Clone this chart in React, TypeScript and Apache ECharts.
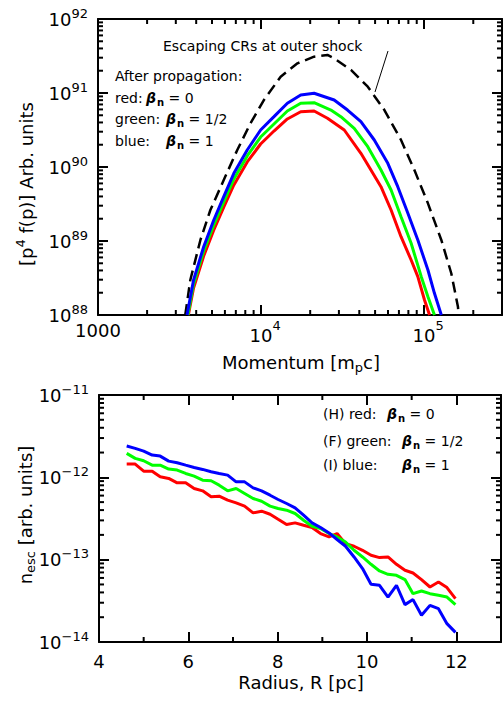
import React, { useEffect, useRef } from "react";
import * as echarts from "echarts";

const FONT = "DejaVu Sans";
const BLACK = "#000000";

// ---------- Top panel: p^4 f(p) vs momentum (values stored as log10) ----------
const shockLogP = [3.535, 3.566, 3.628, 3.689, 3.771, 3.854, 3.935, 4.017, 4.12, 4.223, 4.325, 4.407, 4.448, 4.551, 4.654, 4.756, 4.858, 4.94, 5.023, 5.105, 5.166, 5.207, 5.211];
const shockLogF = [88.0, 88.473, 89.014, 89.419, 89.824, 90.23, 90.591, 90.905, 91.22, 91.401, 91.491, 91.514, 91.469, 91.311, 91.085, 90.77, 90.365, 89.959, 89.509, 89.014, 88.564, 88.112, 88.0];

const redLogP = [3.554, 3.586, 3.648, 3.71, 3.771, 3.833, 3.915, 3.997, 4.079, 4.161, 4.243, 4.325, 4.407, 4.51, 4.612, 4.735, 4.797, 4.858, 4.92, 4.961, 5.002, 5.033];
const redLogF = [88.0, 88.365, 88.797, 89.149, 89.459, 89.757, 90.068, 90.311, 90.486, 90.649, 90.747, 90.757, 90.658, 90.5, 90.185, 89.734, 89.419, 89.058, 88.743, 88.518, 88.203, 88.0];

const greenLogP = [3.551, 3.586, 3.648, 3.71, 3.771, 3.833, 3.915, 3.997, 4.079, 4.161, 4.243, 4.325, 4.428, 4.489, 4.571, 4.654, 4.735, 4.797, 4.858, 4.92, 4.982, 5.023, 5.063];
const greenLogF = [88.0, 88.419, 88.865, 89.216, 89.527, 89.838, 90.149, 90.405, 90.581, 90.757, 90.861, 90.869, 90.77, 90.68, 90.523, 90.274, 89.959, 89.689, 89.328, 88.969, 88.518, 88.247, 88.0];

const blueLogP = [3.546, 3.586, 3.648, 3.71, 3.771, 3.833, 3.915, 3.997, 4.079, 4.161, 4.243, 4.325, 4.448, 4.53, 4.612, 4.694, 4.777, 4.838, 4.9, 4.961, 5.023, 5.063, 5.105];
const blueLogF = [88.0, 88.473, 88.923, 89.284, 89.599, 89.915, 90.23, 90.5, 90.68, 90.861, 90.973, 90.996, 90.905, 90.77, 90.612, 90.365, 90.05, 89.734, 89.374, 89.014, 88.608, 88.293, 88.0];

const momentumMin = 1e3;
const momentumMax = 3e5;
const spectrumMin = 1e88;
const spectrumMax = 1e92;

// ---------- Bottom panel: n_esc vs radius (n_esc stored as log10) ----------
const radius = [4.62, 4.81, 5.0, 5.19, 5.37, 5.56, 5.75, 5.94, 6.13, 6.32, 6.51, 6.69, 6.88, 7.07, 7.26, 7.45, 7.64, 7.83, 8.01, 8.2, 8.39, 8.58, 8.77, 8.96, 9.15, 9.33, 9.52, 9.71, 9.9, 10.09, 10.28, 10.47, 10.66, 10.85, 11.03, 11.22, 11.41, 11.6, 11.79, 11.98];
const escRedLog = [-11.839, -11.839, -11.925, -11.925, -11.994, -12.013, -12.067, -12.067, -12.135, -12.164, -12.237, -12.229, -12.277, -12.31, -12.35, -12.432, -12.411, -12.448, -12.509, -12.573, -12.553, -12.582, -12.61, -12.683, -12.724, -12.683, -12.805, -12.837, -12.886, -12.946, -12.975, -12.967, -13.056, -13.129, -13.162, -13.242, -13.332, -13.271, -13.339, -13.473];
const escGreenLog = [-11.709, -11.77, -11.799, -11.852, -11.852, -11.9, -11.912, -11.953, -11.985, -12.034, -12.042, -12.095, -12.164, -12.135, -12.196, -12.257, -12.29, -12.35, -12.378, -12.399, -12.439, -12.521, -12.594, -12.622, -12.683, -12.724, -12.785, -12.886, -12.967, -13.056, -13.137, -13.178, -13.19, -13.242, -13.413, -13.381, -13.413, -13.433, -13.454, -13.546];
const escBlueLog = [-11.62, -11.648, -11.681, -11.73, -11.742, -11.803, -11.823, -11.852, -11.88, -11.904, -11.933, -11.953, -11.973, -12.055, -12.055, -12.128, -12.164, -12.217, -12.269, -12.318, -12.371, -12.46, -12.553, -12.61, -12.675, -12.755, -12.837, -12.967, -13.108, -13.299, -13.311, -13.454, -13.311, -13.546, -13.485, -13.676, -13.555, -13.595, -13.777, -13.883];

const radiusMin = 4;
const radiusMax = 13;
const radiusStep = 2;
const radiusMinor = [5, 7, 9, 11];
const escMin = 1e-14;
const escMax = 1e-11;

// ---------- Texts ----------
const topLegendTitle = "After propagation:";
const topShockLabel = "Escaping CRs at outer shock";
const legendNames = ["red:", "green:", "blue:"];
const bottomLegendNames = ["(H) red:", "(F) green:", "(I) blue:"];
const legendBetas = ["0", "1/2", "1"];

const GRID_TOP = { left: 98, top: 19, width: 404, height: 296 };
const GRID_BOT = { left: 99, top: 395, width: 402, height: 247 };

const pairsLog = (lx: number[], ly: number[]) => lx.map((v, i) => [Math.pow(10, v), Math.pow(10, ly[i])]);
const pairsLin = (xs: number[], ly: number[]) => xs.map((v, i) => [v, Math.pow(10, ly[i])]);

function decadeOf(v: number): number | null {
  const l = Math.log10(v);
  const r = Math.round(l);
  return Math.abs(l - r) < 1e-6 ? r : null;
}
const expText = (n: number) => (n < 0 ? "\u2212" + -n : String(n));

const yRich = () => ({
  b: { fontSize: 18, fontFamily: FONT, color: BLACK, height: 23 },
  e: { fontSize: 13, fontFamily: FONT, color: BLACK, padding: [0, 0, 12, 0] },
});
const xRich = () => ({
  b: { fontSize: 18, fontFamily: FONT, color: BLACK, height: 23 },
  bp: { fontSize: 18, fontFamily: FONT, color: BLACK, height: 23, padding: [0, 0, 0, 8] },
  e: { fontSize: 13, fontFamily: FONT, color: BLACK, padding: [0, 0, 20, 0] },
});

const mkLine = () => ({ show: true, onZero: false, lineStyle: { color: BLACK, width: 2 } });
const mkTick = () => ({ show: true, inside: true, length: 10, lineStyle: { color: BLACK, width: 2 } });

function buildOption(): any {
  const yLogLabel = () => ({
    margin: 10,
    formatter: (v: number) => {
      const n = decadeOf(v);
      return n === null ? "" : `{b|10}{e|${expText(n)}}`;
    },
    rich: yRich(),
  });
  const line = (name: string, x: number, y: number, data: number[][], color: string, extra: any = {}) => ({
    name,
    type: "line",
    xAxisIndex: x,
    yAxisIndex: y,
    data,
    showSymbol: false,
    symbol: "none",
    silent: true,
    clip: true,
    lineStyle: { color, width: 3, ...extra },
  });
  return {
    animation: false,
    backgroundColor: "#ffffff",
    grid: [
      { ...GRID_TOP, containLabel: false, outerBoundsMode: "none" },
      { ...GRID_BOT, containLabel: false, outerBoundsMode: "none" },
    ],
    xAxis: [
      {
        type: "log", gridIndex: 0, position: "bottom", min: momentumMin, max: momentumMax,
        axisLine: mkLine(), axisTick: mkTick(), splitLine: { show: false },
        axisLabel: {
          margin: 4,
          formatter: (v: number) => {
            const n = decadeOf(v);
            if (n === null) return "";
            return n === 3 ? "{b|1000}" : `{bp|10}{e|${n}}`;
          },
          rich: xRich(),
        },
      },
      {
        type: "log", gridIndex: 0, position: "top", min: momentumMin, max: momentumMax,
        axisLine: mkLine(), axisTick: mkTick(), splitLine: { show: false }, axisLabel: { show: false },
      },
      {
        type: "value", gridIndex: 1, position: "bottom", min: radiusMin, max: radiusMax, interval: radiusStep,
        axisLine: mkLine(), axisTick: mkTick(), splitLine: { show: false },
        axisLabel: {
          margin: 10, fontSize: 18, fontFamily: FONT, color: BLACK,
          formatter: (v: number) => (v % 2 === 0 ? String(v) : ""),
        },
      },
      {
        type: "value", gridIndex: 1, position: "top", min: radiusMin, max: radiusMax, interval: radiusStep,
        axisLine: mkLine(), axisTick: mkTick(), splitLine: { show: false }, axisLabel: { show: false },
      },
    ],
    yAxis: [
      {
        type: "log", gridIndex: 0, position: "left", min: spectrumMin, max: spectrumMax,
        axisLine: mkLine(), axisTick: mkTick(), splitLine: { show: false }, axisLabel: yLogLabel(),
      },
      {
        type: "log", gridIndex: 0, position: "right", min: spectrumMin, max: spectrumMax,
        axisLine: mkLine(), axisTick: mkTick(), splitLine: { show: false }, axisLabel: { show: false },
      },
      {
        type: "log", gridIndex: 1, position: "left", min: escMin, max: escMax,
        axisLine: mkLine(), axisTick: mkTick(), splitLine: { show: false }, axisLabel: yLogLabel(),
      },
      {
        type: "log", gridIndex: 1, position: "right", min: escMin, max: escMax,
        axisLine: mkLine(), axisTick: mkTick(), splitLine: { show: false }, axisLabel: { show: false },
      },
    ],
    series: [
      line("shock", 0, 0, pairsLog(shockLogP, shockLogF), BLACK, { width: 2.5, type: [11, 6] }),
      line("red", 0, 0, pairsLog(redLogP, redLogF), "#ff0000"),
      line("green", 0, 0, pairsLog(greenLogP, greenLogF), "#00ff00"),
      line("blue", 0, 0, pairsLog(blueLogP, blueLogF), "#0000ff"),
      line("escRed", 2, 2, pairsLin(radius, escRedLog), "#ff0000"),
      line("escGreen", 2, 2, pairsLin(radius, escGreenLog), "#00ff00"),
      line("escBlue", 2, 2, pairsLin(radius, escBlueLog), "#0000ff"),
    ],
  };
}

function minorLogValues(min: number, max: number): number[] {
  const out: number[] = [];
  const e0 = Math.floor(Math.log10(min));
  const e1 = Math.ceil(Math.log10(max));
  for (let e = e0; e <= e1; e++) {
    for (let k = 2; k <= 9; k++) {
      const v = k * Math.pow(10, e);
      if (v > min * 1.0001 && v < max * 0.9999) out.push(v);
    }
  }
  return out;
}

const seg = (x1: number, y1: number, x2: number, y2: number, w = 2) => ({
  type: "line", silent: true, z: 50,
  shape: { x1, y1, x2, y2 },
  style: { stroke: BLACK, lineWidth: w },
});

const betaRich = {
  g: { fontSize: 14, fontFamily: FONT, fontStyle: "italic", fontWeight: "bold", fill: BLACK },
  s: { fontSize: 10, fontFamily: FONT, fontWeight: "bold", fill: BLACK, padding: [9, 0, 0, 1] },
  t: { fontSize: 14, fontFamily: FONT, fill: BLACK },
};

function txt(x: number, y: number, text: string, extra: any = {}) {
  return {
    type: "text", silent: true, z: 60, x, y,
    style: { text, fontSize: 14, fontFamily: FONT, fill: BLACK, align: "left", verticalAlign: "middle", ...extra },
  };
}

function buildGraphics(chart: any): any[] {
  const g: any[] = [];
  const px = (axis: number, v: number) => Number(chart.convertToPixel({ xAxisIndex: axis }, v));
  const py = (axis: number, v: number) => Number(chart.convertToPixel({ yAxisIndex: axis }, v));
  // minor ticks, top panel
  {
    const L = GRID_TOP.left, R = GRID_TOP.left + GRID_TOP.width, T = GRID_TOP.top, B = GRID_TOP.top + GRID_TOP.height;
    for (const v of minorLogValues(momentumMin, momentumMax)) {
      const x = px(0, v);
      g.push(seg(x, B, x, B - 5), seg(x, T, x, T + 5));
    }
    for (const v of minorLogValues(spectrumMin, spectrumMax)) {
      const y = py(0, v);
      g.push(seg(L, y, L + 5, y), seg(R, y, R - 5, y));
    }
  }
  // minor ticks, bottom panel
  {
    const L = GRID_BOT.left, R = GRID_BOT.left + GRID_BOT.width, T = GRID_BOT.top, B = GRID_BOT.top + GRID_BOT.height;
    for (const v of radiusMinor) {
      const x = px(2, v);
      g.push(seg(x, B, x, B - 5), seg(x, T, x, T + 5));
    }
    for (const v of minorLogValues(escMin, escMax)) {
      const y = py(2, v);
      g.push(seg(L, y, L + 5, y), seg(R, y, R - 5, y));
    }
  }

  // axis titles
  g.push({
    type: "text", silent: true, z: 60, x: 26.5, y: 184, rotation: Math.PI / 2,
    style: {
      text: "{t|[p}{u|4}{t| f(p)] Arb. units}", align: "center", verticalAlign: "middle",
      rich: {
        t: { fontSize: 18, fontFamily: FONT, fill: BLACK },
        u: { fontSize: 13, fontFamily: FONT, fill: BLACK, padding: [0, 0, 12, 0] },
      },
    },
  });
  g.push({
    type: "text", silent: true, z: 60, x: 301, y: 362,
    style: {
      text: "{t|Momentum [m}{s|p}{t|c]}", align: "center", verticalAlign: "middle",
      rich: {
        t: { fontSize: 18, fontFamily: FONT, fill: BLACK },
        s: { fontSize: 13, fontFamily: FONT, fill: BLACK, padding: [10, 0, 0, 0] },
      },
    },
  });
  g.push({
    type: "text", silent: true, z: 60, x: 25, y: 515, rotation: Math.PI / 2,
    style: {
      text: "{t|n}{s|esc}{t| [arb. units]}", align: "center", verticalAlign: "middle",
      rich: {
        t: { fontSize: 18, fontFamily: FONT, fill: BLACK },
        s: { fontSize: 13, fontFamily: FONT, fill: BLACK, padding: [10, 0, 0, 0] },
      },
    },
  });
  g.push(txt(301, 682, "Radius, R [pc]", { fontSize: 18, align: "center" }));

  // top panel annotations
  g.push(txt(163, 46, topShockLabel));
  g.push(seg(388, 51, 375, 92, 1));
  g.push(txt(115, 76, topLegendTitle));
  const topYs = [97.5, 119, 141];
  const topBetaX = [146, 166, 166];
  legendNames.forEach((name, i) => {
    g.push(txt(115, topYs[i], name));
    g.push(txt(topBetaX[i], topYs[i], `{g|\u03b2}{s|n}{t| = ${legendBetas[i]}}`, { rich: betaRich }));
  });

  // bottom panel legend
  const botYs = [414, 441, 465];
  const botBetaX = [387, 402, 402];
  bottomLegendNames.forEach((name, i) => {
    g.push(txt(323, botYs[i], name));
    g.push(txt(botBetaX[i], botYs[i], `{g|\u03b2}{s|n}{t| = ${legendBetas[i]}}`, { rich: betaRich }));
  });
  return g;
}

export default function App() {
  const ref = useRef<HTMLDivElement>(null);
  useEffect(() => {
    const el = ref.current;
    if (!el) return;
    const chart = echarts.init(el, null, { renderer: "svg" });
    chart.setOption(buildOption());
    chart.setOption({ graphic: buildGraphics(chart) });
    return () => chart.dispose();
  }, []);
  return (
    <div
      ref={ref}
      style={{ position: "absolute", left: 0, top: 0, width: 504, height: 702, background: "#ffffff" }}
    />
  );
}
